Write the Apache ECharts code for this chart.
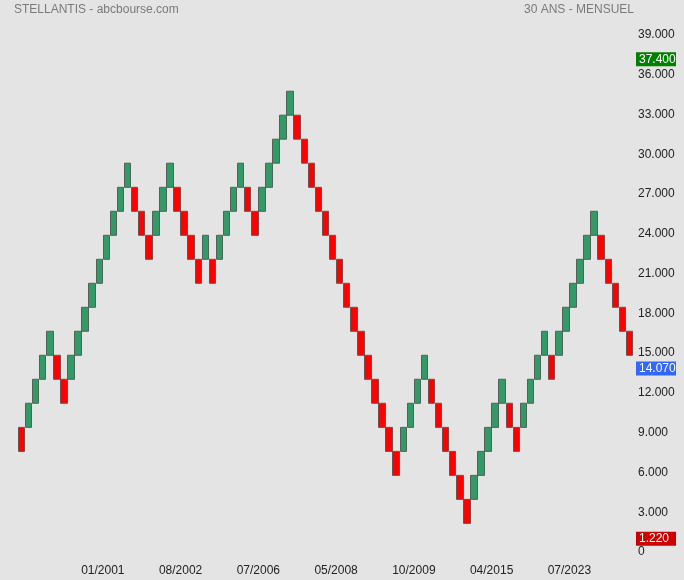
<!DOCTYPE html>
<html>
<head>
<meta charset="utf-8">
<script src="https://cdn.jsdelivr.net/npm/echarts@6/dist/echarts.min.js"></script>
<style>
html,body{margin:0;padding:0;background:#e4e4e4;}
#chart{width:684px;height:580px;}
</style>
</head>
<body>
<div id="chart"></div>
<script>
// Renko bricks (monthly, 30 years)
const brickOpen = [
  9.40, 9.40, 11.22, 13.03, 14.84, 14.84, 13.03, 13.03, 14.84, 16.65,
  18.46, 20.27, 22.08, 23.89, 25.70, 27.51, 27.51, 25.70, 23.89, 23.89,
  25.70, 27.51, 27.51, 25.70, 23.89, 22.08, 22.08, 22.08, 22.08, 23.89,
  25.70, 27.51, 27.51, 25.70, 25.70, 27.51, 29.33, 31.14, 32.95, 32.95,
  31.14, 29.33, 27.51, 25.70, 23.89, 22.08, 20.27, 18.46, 16.65, 14.84,
  13.03, 11.22, 9.40, 7.59, 7.59, 9.40, 11.22, 13.03, 13.03, 11.22,
  9.40, 7.59, 5.78, 3.97, 3.97, 5.78, 7.59, 9.40, 11.22, 11.22,
  9.40, 9.40, 11.22, 13.03, 14.84, 14.84, 14.84, 16.65, 18.46, 20.27,
  22.08, 23.89, 23.89, 22.08, 20.27, 18.46, 16.65
];
const brickClose = [
  7.59, 11.22, 13.03, 14.84, 16.65, 13.03, 11.22, 14.84, 16.65, 18.46,
  20.27, 22.08, 23.89, 25.70, 27.51, 29.33, 25.70, 23.89, 22.08, 25.70,
  27.51, 29.33, 25.70, 23.89, 22.08, 20.27, 23.89, 20.27, 23.89, 25.70,
  27.51, 29.33, 25.70, 23.89, 27.51, 29.33, 31.14, 32.95, 34.76, 31.14,
  29.33, 27.51, 25.70, 23.89, 22.08, 20.27, 18.46, 16.65, 14.84, 13.03,
  11.22, 9.40, 7.59, 5.78, 9.40, 11.22, 13.03, 14.84, 11.22, 9.40,
  7.59, 5.78, 3.97, 2.16, 5.78, 7.59, 9.40, 11.22, 13.03, 9.40,
  7.59, 11.22, 13.03, 14.84, 16.65, 13.03, 16.65, 18.46, 20.27, 22.08,
  23.89, 25.70, 22.08, 20.27, 18.46, 16.65, 14.84
];
// date tick labels and the brick boundary where each sits
const tickLabels = ['01/2001', '08/2002', '07/2006', '05/2008', '10/2009', '04/2015', '07/2023'];
const tickPositions = [12, 23, 34, 45, 56, 67, 78];
// price tags
const maxPrice = 37.40;
const lastPrice = 14.07;
const minPrice = 1.22;
const yTicks = { min: 0, max: 39, interval: 3 };

const categories = brickOpen.map((_, i) => String(i + 1));
const candleData = brickOpen.map((o, i) => {
  const c = brickClose[i];
  return [o, c, Math.min(o, c), Math.max(o, c)];
});

function fmt(v) { return v === 0 ? '0' : v.toFixed(3); }

function tag(value, bg) {
  return {
    yAxis: value,
    lineStyle: { color: 'rgba(0,0,0,0)', width: 0, type: 'solid' },
    label: {
      show: true,
      position: 'end',
      distance: 3,
      formatter: fmt(value),
      color: '#ffffff',
      backgroundColor: bg,
      fontFamily: 'Liberation Sans, Arial, sans-serif',
      fontSize: 12,
      lineHeight: 13,
      width: 33,
      align: 'left',
      padding: [1, 4, 0, 3],
      offset: [0, 3]
    }
  };
}

const chart = echarts.init(document.getElementById('chart'), null, { renderer: 'canvas' });
chart.setOption({
  backgroundColor: '#e4e4e4',
  animation: false,
  textStyle: { fontFamily: 'Liberation Sans, Arial, sans-serif' },
  title: [
    { text: 'STELLANTIS - abcbourse.com', left: 14, top: 4, padding: 0,
      textStyle: { color: '#7a7a7a', fontSize: 12, fontWeight: 'normal', fontFamily: 'Liberation Sans, Arial, sans-serif' } },
    { text: '30 ANS - MENSUEL', right: 50, top: 4, padding: 0,
      textStyle: { color: '#7a7a7a', fontSize: 12, fontWeight: 'normal', fontFamily: 'Liberation Sans, Arial, sans-serif' } }
  ],
  grid: { left: 18, right: 51, top: 35, bottom: 28 },
  xAxis: [
    {
      type: 'category', data: categories, boundaryGap: true,
      axisLine: { show: false }, axisTick: { show: false }, axisLabel: { show: false },
      splitLine: { show: false }
    },
    {
      type: 'value', min: 0, max: brickOpen.length, position: 'bottom',
      axisLine: { show: false }, axisTick: { show: false }, splitLine: { show: false },
      axisLabel: {
        show: true, customValues: tickPositions, margin: 13,
        color: '#222222', fontSize: 12,
        formatter: v => tickLabels[tickPositions.indexOf(v)] || ''
      }
    }
  ],
  yAxis: {
    type: 'value', position: 'right', min: yTicks.min, max: yTicks.max, interval: yTicks.interval,
    axisLine: { show: false }, axisTick: { show: false }, splitLine: { show: false },
    axisLabel: { margin: 5, color: '#222222', fontSize: 12, formatter: fmt }
  },
  series: [
    {
      type: 'candlestick', xAxisIndex: 0, data: candleData, barWidth: 7, clip: false,
      itemStyle: {
        color: '#339966', color0: '#ff0000',
        borderColor: '#4f6358', borderColor0: '#7d4a4a', borderWidth: 1
      },
      markLine: {
        silent: true, symbol: ['none', 'none'], animation: false,
        data: [tag(maxPrice, '#008000'), tag(lastPrice, '#3366ff'), tag(minPrice, '#cc0000')]
      }
    }
  ]
});
</script>
</body>
</html>
